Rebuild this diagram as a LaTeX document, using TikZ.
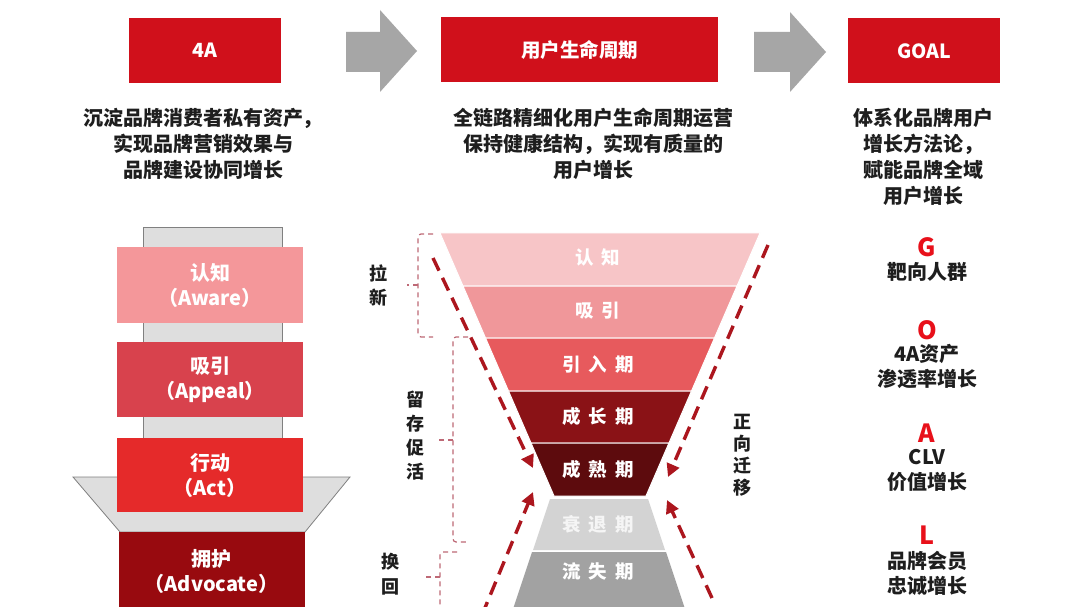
\documentclass[tikz,border=0pt]{standalone}
\usepackage{fontspec}
\setmainfont{Noto Sans CJK SC}
\usepackage{tikz}
\usetikzlibrary{arrows.meta}
\definecolor{hdrred}{RGB}{208,16,27}
\definecolor{arrgrey}{RGB}{166,166,166}
\definecolor{colgrey}{RGB}{222,222,222}
\definecolor{edgegrey}{RGB}{128,128,128}
\definecolor{awarec}{RGB}{244,151,154}
\definecolor{appealc}{RGB}{216,66,77}
\definecolor{actc}{RGB}{229,42,42}
\definecolor{advoc}{RGB}{152,10,15}
\definecolor{fone}{RGB}{247,197,199}
\definecolor{ftwo}{RGB}{240,151,154}
\definecolor{fthree}{RGB}{231,90,93}
\definecolor{ffour}{RGB}{138,18,22}
\definecolor{ffive}{RGB}{93,11,13}
\definecolor{fsix}{RGB}{211,211,211}
\definecolor{fseven}{RGB}{162,162,162}
\definecolor{flowred}{RGB}{172,22,30}
\definecolor{bracered}{RGB}{190,105,118}
\definecolor{bodyc}{RGB}{30,30,30}
\definecolor{goalred}{RGB}{232,16,26}
\newcommand\bgap{\hspace{8pt}}

\begin{document}
\begin{tikzpicture}[x=1pt,y=-1pt,
		hdr/.style={fill=hdrred, text=white, inner sep=0pt, minimum height=65pt, font=\bfseries\fontsize{19.5}{20}\selectfont},
		desc/.style={align=center, text=bodyc, font=\bfseries\fontsize{20}{26}\selectfont},
		layer/.style={text=white, inner sep=0pt, minimum width=186pt, align=center, font=\bfseries\fontsize{20}{25}\selectfont},
		back/.style={fill=colgrey, draw=edgegrey, line width=0.8pt},
		band/.style={text=white, font=\bfseries\fontsize{18.5}{20}\selectfont},
		flow/.style={draw=flowred, line width=3.4pt, dash pattern=on 14pt off 8pt, -{Triangle[length=13pt,width=13pt]}},
		brace/.style={draw=bracered, line width=1.2pt, dash pattern=on 5pt off 4pt, rounded corners=3pt},
		side/.style={align=center, text=bodyc, font=\bfseries\fontsize{18}{24}\selectfont},
		letter/.style={text=goalred, font=\bfseries\fontsize{25}{26}\selectfont},
		goaltxt/.style={align=center, text=bodyc, font=\bfseries\fontsize{20}{25}\selectfont}]
	\useasboundingbox (0,0) rectangle (1080,607);
	\fill[white] (0,0) rectangle (1080,607);
	\clip (0,0) rectangle (1080,607);

	% headers
	\node[hdr, minimum width=152pt] (hdrA) at (205,50.5) {4A};
	\node[hdr, minimum width=277pt] (hdrLife) at (579.5,49.5) {用户生命周期};
	\node[hdr, minimum width=152pt] (hdrGoal) at (924,51) {GOAL};
	\fill[arrgrey] (346,32) -- (380,32) -- (380,10) -- (417,51) -- (380,92) -- (380,72) -- (346,72) -- cycle;
	\fill[arrgrey] (754,32) -- (790,32) -- (790,12) -- (826,52) -- (790,92) -- (790,72) -- (754,72) -- cycle;

	\node[desc] (descA) at (203,144) {沉淀品牌消费者私有资产，\\实现品牌营销效果与\\品牌建设协同增长};
	\node[desc] (descLife) at (593,144) {全链路精细化用户生命周期运营\\保持健康结构，实现有质量的\\用户增长};
	\node[desc] (descGoal) at (923,156.5) {体系化品牌用户\\增长方法论，\\赋能品牌全域\\用户增长};

	% 4A stack
	\draw[back] (143,227) rectangle (282,480);
	\draw[back] (73,477) -- (350,477) -- (305,532) -- (120,532) -- cycle;
	\node[layer, fill=awarec, minimum height=76pt] (aware) at (210,285) {认知\\（Aware）};
	\node[layer, fill=appealc, minimum height=75pt] (appeal) at (210,379.5) {吸引\\（Appeal）};
	\node[layer, fill=actc, minimum height=74pt] (act) at (210,475) {行动\\（Act）};
	\node[layer, fill=advoc, minimum height=79pt] (advocate) at (211.5,571.5) {拥护\\（Advocate）};

	% funnel
	\foreach \ya/\yb/\col in {233/286/fone, 286/338/ftwo, 338/391/fthree, 391/443/ffour, 443/496/ffive}
		\fill[\col, draw=white, line width=1pt] ({440+0.4335*(\ya-233)},\ya) -- ({760-0.4335*(\ya-233)},\ya)
			-- ({760-0.4335*(\yb-233)},\yb) -- ({440+0.4335*(\yb-233)},\yb) -- cycle;
	\fill[fsix] (550,499) -- (648,499) -- (665,550) -- (533,550) -- cycle;
	\fill[fseven] (532,552) -- (666,552) -- (686,612) -- (512,612) -- cycle;
	\node[band] (fAware) at (598,257) {认\bgap 知};
	\node[band] (fAppeal) at (598,311) {吸\bgap 引};
	\node[band] (fIntro) at (598,364) {引\bgap 入\bgap 期};
	\node[band] (fGrowth) at (598,416) {成\bgap 长\bgap 期};
	\node[band] (fMature) at (598,469) {成\bgap 熟\bgap 期};
	\node[band, text=white!96!black] (fDecline) at (598,524.5) {衰\bgap 退\bgap 期};
	\node[band] (fChurn) at (598,571) {流\bgap 失\bgap 期};

	\coordinate (inTL) at (433,258);
	\coordinate (inTR) at (768,245);
	\coordinate (inBL) at (482,615);
	\coordinate (inBR) at (712,598);
	\coordinate (tipTL) at (533,468);
	\coordinate (tipTR) at (668,477);
	\coordinate (tipBL) at (533,492);
	\coordinate (tipBR) at (667,500);
	\draw[flow] (inTL) -- (tipTL);
	\draw[flow] (inTR) -- (tipTR);
	\draw[flow] (inBL) -- (tipBL);
	\draw[flow] (inBR) -- (tipBR);

	% brackets
	\draw[brace] (433,234) -- (418,234) -- (418,337) -- (433,337);
	\draw[brace] (418,285) -- (407,285);
	\draw[brace] (468,337) -- (453,337) -- (453,542) -- (468,542);
	\draw[brace] (453,440) -- (437,440);
	\draw[brace] (457,552) -- (440,552) -- (440,615);
	\draw[brace] (440,577) -- (425,577);
	\node[side] (pull) at (378,285.5) {拉\\新};
	\node[side] (keep) at (415,436) {留\\存\\促\\活};
	\node[side, font=\bfseries\fontsize{18}{25}\selectfont] (back) at (390,574.5) {换\\回};
	\node[side, font=\bfseries\fontsize{18}{22}\selectfont] (fwd) at (742,455) {正\\向\\迁\\移};

	% GOAL column
	\node[letter] (gG) at (927,247) {G};
	\node[goaltxt] (tG) at (927,272) {靶向人群};
	\node[letter] (gO) at (927,330) {O};
	\node[goaltxt] (tO) at (927,366) {4A资产\\渗透率增长};
	\node[letter] (gA) at (927,433) {A};
	\node[goaltxt] (tA) at (927,470.5) {CLV\\价值增长};
	\node[letter] (gL) at (927,535) {L};
	\node[goaltxt] (tL) at (927,573.5) {品牌会员\\忠诚增长};
\end{tikzpicture}
\end{document}
